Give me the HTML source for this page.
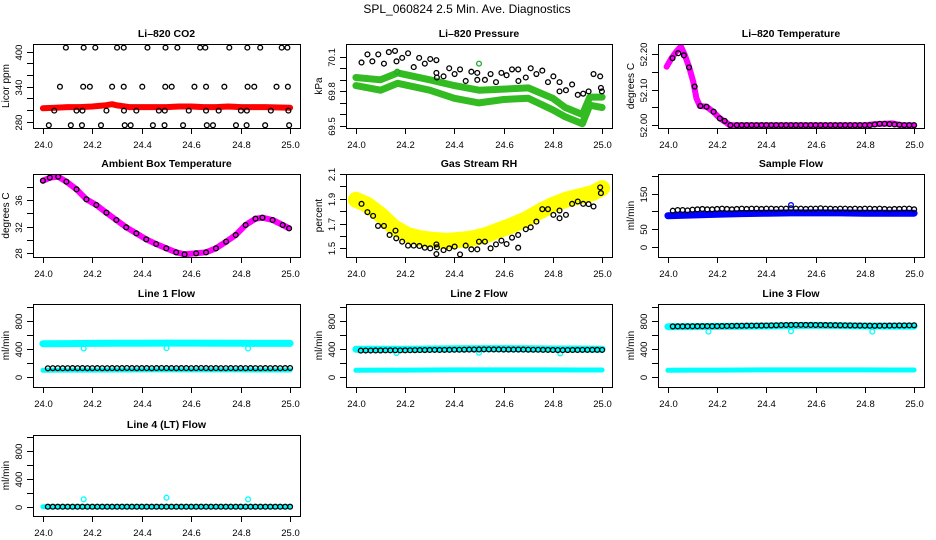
<!DOCTYPE html>
<html><head><meta charset="utf-8"><title>SPL_060824 Diagnostics</title>
<style>
html,body{margin:0;padding:0;background:#fff;}
svg{display:block;font-family:"Liberation Sans",Arial,sans-serif;}
</style></head>
<body>
<svg id="chart" width="936" height="540" viewBox="0 0 936 540" xmlns="http://www.w3.org/2000/svg">
<rect x="0" y="0" width="936" height="540" fill="#fff"/>
<text x="467" y="13" font-size="12" text-anchor="middle">SPL_060824  2.5 Min. Ave. Diagnostics</text>
</svg>
<script>
// ---------- shared x data ----------
const xTicks = [24.0, 24.2, 24.4, 24.6, 24.8, 25.0];
const xTickLabels = ["24.0", "24.2", "24.4", "24.6", "24.8", "25.0"];
const flowT = [24.02,24.04,24.06,24.08,24.10,24.12,24.14,24.16,24.18,24.20,24.22,24.24,24.26,24.28,24.30,24.32,24.34,24.36,24.38,24.40,24.42,24.44,24.46,24.48,24.50,24.52,24.54,24.56,24.58,24.60,24.62,24.64,24.66,24.68,24.70,24.72,24.74,24.76,24.78,24.80,24.82,24.84,24.86,24.88,24.90,24.92,24.94,24.96,24.98,25.00];
const bandT = [24.0,24.1,24.2,24.3,24.4,24.5,24.6,24.7,24.8,24.9,25.0];
const dipT = [24.165, 24.5, 24.83];

// ---------- CO2 ----------
const co2YTicks = [280,300,320,340,360,380,400];
const co2YLabels = ["280","","","340","","","400"];
const co2BandT = [24.0,24.05,24.1,24.15,24.2,24.25,24.28,24.3,24.35,24.4,24.45,24.5,24.55,24.6,24.65,24.7,24.75,24.8,24.85,24.9,25.0];
const co2BandV = [303,304,305,305,306,308,310,308,305,305,305,305,306,306,305,305,306,305,305,305,304];
const co2PtT = [24.093,24.165,24.212,24.30,24.327,24.423,24.496,24.544,24.636,24.657,24.754,24.827,24.879,24.966,24.989,
  24.069,24.163,24.19,24.28,24.327,24.402,24.495,24.521,24.613,24.66,24.734,24.828,24.855,24.945,24.991,
  24.046,24.136,24.16,24.257,24.328,24.378,24.469,24.493,24.59,24.66,24.711,24.801,24.825,24.922,24.993,
  24.024,24.113,24.158,24.235,24.331,24.355,24.445,24.492,24.567,24.663,24.688,24.781,24.824,24.899,24.996];
const co2PtV = [407,407,407,407,407,407,407,407,407,407,407,407,407,407,407,
  340,340,340,340,340,340,340,340,340,340,340,340,340,340,340,
  299,299,299,299,299,299,299,299,299,299,299,299,299,299,299,
  274,274,274,274,274,274,274,274,274,274,274,274,274,274,274];

// ---------- Pressure ----------
const prYTicks = [69.5,69.6,69.7,69.8,69.9,70.0,70.1];
const prYLabels = ["69.5","","","69.8","","","70.1"];
const prBandT = [24.0,24.1,24.17,24.3,24.4,24.5,24.6,24.7,24.8,24.85,24.92,24.95,25.0];
const prUpperV = [69.92,69.90,69.96,69.90,69.85,69.81,69.82,69.83,69.74,69.66,69.60,69.75,69.75];
const prLowerV = [69.85,69.81,69.87,69.81,69.74,69.70,69.73,69.74,69.64,69.58,69.52,69.68,69.66];
const prGreenT = [24.168, 24.50];
const prGreenV = [69.97, 70.04];
const prBlackT = [24.023,24.047,24.067,24.091,24.114,24.134,24.159,24.165,24.188,24.212,24.235,24.257,24.280,24.302,24.327,24.327,24.329,24.356,24.379,24.401,24.423,24.446,24.469,24.493,24.493,24.524,24.547,24.569,24.591,24.612,24.634,24.659,24.660,24.690,24.710,24.733,24.757,24.780,24.802,24.827,24.827,24.853,24.878,24.901,24.923,24.945,24.965,24.992,24.995,24.999];
const prBlackV = [70.05,70.12,70.06,70.12,70.04,70.14,70.15,70.06,70.09,70.13,70.01,70.09,70.04,70.08,70.07,69.96,69.92,69.93,70.00,69.95,69.99,69.89,69.97,69.96,69.90,69.90,69.95,69.88,69.96,69.94,69.99,69.99,69.89,69.92,70.00,69.95,69.98,69.88,69.93,69.88,69.80,69.81,69.86,69.77,69.78,69.80,69.95,69.93,69.83,69.80];

// ---------- Li-820 Temperature ----------
const tmYTicks = [52.00,52.05,52.10,52.15,52.20];
const tmYLabels = ["52.00","","52.10","","52.20"];
const tmLineT = [23.995,24.015,24.035,24.053,24.069,24.086,24.103,24.116,24.130,24.157,24.184,24.211,24.238,24.251,24.44,24.80,24.845,24.912,24.95,25.0];
const tmLineV = [52.165,52.189,52.208,52.222,52.198,52.165,52.123,52.076,52.054,52.052,52.038,52.019,52.007,52.0,52.0,52.0,52.003,52.005,52.0,52.0];
const tmPtT = [24.019,24.042,24.065,24.086,24.109,24.132,24.157,24.186,24.211,24.231,24.254,24.28,24.30,24.32,24.34,24.36,24.38,24.40,24.42,24.44,24.46,24.48,24.50,24.52,24.54,24.56,24.58,24.60,24.62,24.64,24.66,24.68,24.70,24.72,24.74,24.76,24.78,24.80,24.82,24.84,24.86,24.88,24.90,24.92,24.94,24.96,24.98,25.00];
const tmPtV = [52.189,52.203,52.197,52.163,52.109,52.054,52.052,52.038,52.019,52.012,52.0,52.0,52.0,52.0,52.0,52.0,52.0,52.0,52.0,52.0,52.0,52.0,52.0,52.0,52.0,52.0,52.0,52.0,52.0,52.0,52.0,52.0,52.0,52.0,52.0,52.0,52.0,52.0,52.0,52.002,52.004,52.004,52.003,52.002,52.001,52.0,52.0,52.0];

// ---------- Ambient Box Temperature ----------
const abYTicks = [28,30,32,34,36,38];
const abYLabels = ["28","","32","","36",""];
const abT = [24.0,24.028,24.062,24.095,24.136,24.176,24.216,24.257,24.297,24.337,24.378,24.418,24.458,24.499,24.539,24.573,24.62,24.66,24.70,24.741,24.78,24.82,24.86,24.888,24.929,24.97,24.996];
const abV = [38.9,39.35,39.5,38.75,37.6,36.1,35.25,34.1,33.0,31.9,31.0,30.1,29.4,28.75,28.15,27.85,28.0,28.15,28.75,29.75,30.75,32.25,33.2,33.35,33.0,32.25,31.75];

// ---------- Gas Stream RH ----------
const rhYTicks = [1.5,1.6,1.7,1.8,1.9,2.0,2.1];
const rhYLabels = ["1.5","","1.7","","1.9","","2.1"];
const rhBandT = [24.0,24.047,24.101,24.155,24.208,24.262,24.316,24.370,24.423,24.477,24.531,24.585,24.638,24.692,24.746,24.800,24.853,24.907,24.961,25.0];
const rhBandV = [1.892,1.851,1.770,1.670,1.608,1.581,1.568,1.559,1.568,1.581,1.608,1.649,1.689,1.735,1.797,1.851,1.892,1.919,1.946,1.986];
const rhPtT = [24.023,24.047,24.070,24.090,24.114,24.137,24.161,24.164,24.188,24.212,24.235,24.258,24.280,24.302,24.327,24.329,24.327,24.356,24.379,24.401,24.423,24.446,24.469,24.493,24.500,24.524,24.547,24.569,24.591,24.612,24.634,24.659,24.659,24.690,24.710,24.733,24.757,24.780,24.802,24.827,24.827,24.853,24.878,24.901,24.923,24.945,24.965,24.992,24.995];
const rhPtV = [1.859,1.792,1.762,1.681,1.681,1.608,1.643,1.581,1.554,1.522,1.522,1.519,1.505,1.500,1.532,1.508,1.454,1.486,1.500,1.514,1.451,1.522,1.492,1.492,1.554,1.554,1.500,1.532,1.562,1.535,1.586,1.608,1.505,1.654,1.670,1.716,1.816,1.816,1.770,1.805,1.743,1.770,1.859,1.878,1.859,1.857,1.838,1.992,1.946];

// ---------- Sample Flow ----------
const sfYTicks = [0,50,100,150,200];
const sfYLabels = ["0","50","","150",""];
const sfBlueV = [88,90,92,94,95,96,96,96,95,95,95];
const sfSpikeT = [24.5];
const sfSpikeV = [118];
const sfBlackV = [102,104,104,103,105,106,107,106,106,107,108,107,106,107,108,107,108,108,107,108,108,107,108,108,109,108,108,107,108,108,109,108,108,107,108,108,107,108,107,108,108,107,108,107,106,107,107,108,108,106];

// ---------- Line flows ----------
const flYTicks = [0,200,400,600,800,1000];
const flYLabels = ["0","","400","","800",""];
const l1HighV = [478,480,482,484,485,486,486,485,484,483,482];
const l1LowV = [100,102,103,104,105,106,106,105,105,104,104];
const l1DipV = [410,415,410];
const l1BlackV = [128,130,130,129,130,131,130,131,130,130,131,130,130,131,130,131,132,131,130,131,131,130,131,132,131,131,130,131,131,130,131,132,131,130,131,130,130,131,130,131,130,131,130,130,131,130,131,130,131,132];
const l2HighV = [398,398,400,402,405,408,408,406,403,402,400];
const l2LowV = [100,102,103,104,105,106,106,105,105,104,104];
const l2DipV = [345,350,340];
const l2BlackV = [380,381,381,382,382,383,384,385,383,384,385,386,387,388,389,390,389,390,391,392,392,393,394,395,396,397,397,396,396,395,395,394,395,394,393,392,392,391,390,389,388,387,388,389,389,390,390,391,391,390];
const l3HighV = [720,722,724,726,730,735,738,736,730,728,728];
const l3LowV = [100,102,103,104,105,106,106,105,105,104,104];
const l3DipV = [650,655,650];
const l3BlackV = [724,725,725,726,726,727,727,728,727,728,729,730,731,732,733,734,735,735,736,737,738,740,742,744,745,746,746,745,745,744,744,743,742,741,740,739,738,737,736,735,734,733,734,735,736,737,738,738,739,740];
const l4BandV = [0,0,0,0,0,0,0,0,0,0,0];
const l4OutV = [105,128,105];
const l4BlackV = [0,0,0,0,0,0,0,0,0,0,0,0,0,0,0,0,0,0,0,0,0,0,0,0,0,0,0,0,0,0,0,0,0,0,0,0,0,0,0,0,0,0,0,0,0,0,0,0,0,0];

// ---------- drawing ----------
const NS = "http://www.w3.org/2000/svg";
const svg = document.getElementById("chart");
function mk(tag, attrs, parent) {
  const e = document.createElementNS(NS, tag);
  for (const k in attrs) e.setAttribute(k, attrs[k]);
  (parent || svg).appendChild(e);
  return e;
}
const colX0 = [33, 346, 658], colX1 = [300, 612, 924];
const rowY0 = [44, 174, 304, 435], rowY1 = [128, 257, 387, 516];

function makePanel(id, col, row, ylo, yhi, title, ytitle, yTicks, yLabels) {
  const x0 = colX0[col], x1 = colX1[col], y0 = rowY0[row], y1 = rowY1[row];
  const g = mk("g", {});
  
  
  const sx = t => x0 + (t - 23.96) / 1.08 * (x1 - x0);
  const sy = v => y1 - (v - ylo) / (yhi - ylo) * (y1 - y0);
  const clipId = "clip-" + id;
  const cp = mk("clipPath", {id: clipId}, g);
  mk("rect", {x: x0, y: y0, width: x1 - x0, height: y1 - y0}, cp);
  const plot = mk("g", {"clip-path": "url(#" + clipId + ")"}, g);
  
  
  const t = mk("text", {x: (x0 + x1) / 2, y: y0 - 7, "font-size": 10.5, "font-weight": "bold", "text-anchor": "middle"}, g);
  t.textContent = title;
  
  
  const yt = mk("text", {x: x0 - 24, y: (y0 + y1) / 2, "font-size": 10, "text-anchor": "middle", transform: "rotate(-90 " + (x0 - 24) + " " + (y0 + y1) / 2 + ")"}, g);
  yt.textContent = ytitle;
  
  
  const xa = mk("g", {}, g);
  
  
  mk("line", {x1: sx(xTicks[0]), x2: sx(xTicks[xTicks.length - 1]), y1: y1 + 0.5, y2: y1 + 0.5, stroke: "#000"}, xa);
  xTicks.forEach((v, i) => {
    const x = Math.round(sx(v)) + 0.5;
    mk("line", {x1: x, x2: x, y1: y1, y2: y1 + 6, stroke: "#000"}, xa);
    const l = mk("text", {x: x, y: y1 + 20, "font-size": 9.5, "text-anchor": "middle"}, xa);
    l.textContent = xTickLabels[i];
  });
  const ya = mk("g", {}, g);
  
  
  yTicks.forEach((v, i) => {
    const y = Math.round(sy(v)) + 0.5;
    mk("line", {x1: x0 - 6, x2: x0, y1: y, y2: y, stroke: "#000"}, ya);
    if (yLabels[i]) {
      const lx = x0 - 11;
      const l = mk("text", {x: lx, y: y, "font-size": 9.5, "text-anchor": "middle", transform: "rotate(-90 " + lx + " " + y + ")"}, ya);
      l.textContent = yLabels[i];
    }
  });
  return {g, plot, sx, sy, box: [x0, y0, x1, y1]};
}
function finishBox(p, id) {
  const b = p.box;
  const r = mk("rect", {x: b[0] + 0.5, y: b[1] + 0.5, width: b[2] - b[0], height: b[3] - b[1], fill: "none", stroke: "#000"}, p.g);
  
  
}
function band(p, ts, vs, color, w, name) {
  const pts = ts.map((t, i) => p.sx(t).toFixed(1) + "," + p.sy(vs[i]).toFixed(1)).join(" ");
  const e = mk("polyline", {points: pts, fill: "none", stroke: color, "stroke-width": w, "stroke-linejoin": "round", "stroke-linecap": "round"}, p.plot);
  
  
}
function circles(p, ts, vs, color, name, r) {
  const g = mk("g", {}, p.plot);
  
  
  ts.forEach((t, i) => {
    mk("circle", {cx: p.sx(t), cy: p.sy(vs[i]), r: r || 2.4, fill: "none", stroke: color, "stroke-width": 1.3}, g);
  });
}

// CO2
let p = makePanel("co2", 0, 0, 269.2, 413.2, "Li\u2013820 CO2", "Licor ppm", co2YTicks, co2YLabels);
band(p, co2BandT, co2BandV, "#ff0000", 6, "co2-band");
circles(p, co2PtT, co2PtV, "#000", "co2-points");
finishBox(p, "co2");

// Pressure
p = makePanel("pressure", 1, 0, 69.483, 70.21, "Li\u2013820 Pressure", "kPa", prYTicks, prYLabels);
band(p, prBandT, prUpperV, "#33bb22", 7, "pressure-upper-band");
band(p, prBandT, prLowerV, "#33bb22", 7, "pressure-lower-band");
circles(p, prGreenT, prGreenV, "#22aa22", "pressure-green-outliers");
circles(p, prBlackT, prBlackV, "#000", "pressure-points");
finishBox(p, "pressure");

// Li-820 Temperature
p = makePanel("li820-temp", 2, 0, 51.992, 52.229, "Li\u2013820 Temperature", "degrees C", tmYTicks, tmYLabels);
band(p, tmLineT, tmLineV, "#ff00ff", 6, "li820-temp-band");
circles(p, tmPtT, tmPtV, "#000", "li820-temp-points");
finishBox(p, "li820-temp");

// Ambient
p = makePanel("ambient", 0, 1, 27.45, 39.9, "Ambient Box Temperature", "degrees C", abYTicks, abYLabels);
band(p, abT, abV, "#ff00ff", 6, "ambient-band");
circles(p, abT, abV, "#000", "ambient-points");
finishBox(p, "ambient");

// RH
p = makePanel("rh", 1, 1, 1.43, 2.1, "Gas Stream RH", "percent", rhYTicks, rhYLabels);
band(p, rhBandT, rhBandV, "#ffff00", 16, "rh-band");
circles(p, rhPtT, rhPtV, "#000", "rh-points");
finishBox(p, "rh");

// Sample flow
p = makePanel("sample-flow", 2, 1, -29, 206, "Sample Flow", "ml/min", sfYTicks, sfYLabels);
band(p, bandT, sfBlueV, "#0000ff", 7, "sample-flow-band");
circles(p, sfSpikeT, sfSpikeV, "#0000ff", "sample-flow-spike");
circles(p, flowT, sfBlackV, "#000", "sample-flow-points");
finishBox(p, "sample-flow");

// Line 1
p = makePanel("line1", 0, 2, -138, 1043, "Line 1 Flow", "ml/min", flYTicks, flYLabels);
band(p, bandT, l1HighV, "#00ffff", 7, "line1-high-band");
band(p, bandT, l1LowV, "#00ffff", 5, "line1-low-band");
circles(p, dipT, l1DipV, "#00ffff", "line1-dips");
circles(p, flowT, l1BlackV, "#000", "line1-points");
finishBox(p, "line1");

// Line 2
p = makePanel("line2", 1, 2, -138, 1043, "Line 2 Flow", "ml/min", flYTicks, flYLabels);
band(p, bandT, l2HighV, "#00ffff", 7, "line2-high-band");
band(p, bandT, l2LowV, "#00ffff", 5, "line2-low-band");
circles(p, dipT, l2DipV, "#00ffff", "line2-dips");
circles(p, flowT, l2BlackV, "#000", "line2-points");
finishBox(p, "line2");

// Line 3
p = makePanel("line3", 2, 2, -138, 1043, "Line 3 Flow", "ml/min", flYTicks, flYLabels);
band(p, bandT, l3HighV, "#00ffff", 7, "line3-high-band");
band(p, bandT, l3LowV, "#00ffff", 5, "line3-low-band");
circles(p, dipT, l3DipV, "#00ffff", "line3-dips");
circles(p, flowT, l3BlackV, "#000", "line3-points");
finishBox(p, "line3");

// Line 4
p = makePanel("line4", 0, 3, -133, 1024, "Line 4 (LT) Flow", "ml/min", flYTicks, flYLabels);
band(p, bandT, l4BandV, "#00ffff", 5, "line4-band");
circles(p, dipT, l4OutV, "#00ffff", "line4-outliers");
circles(p, flowT, l4BlackV, "#000", "line4-points");
finishBox(p, "line4");
</script>
</body></html>
